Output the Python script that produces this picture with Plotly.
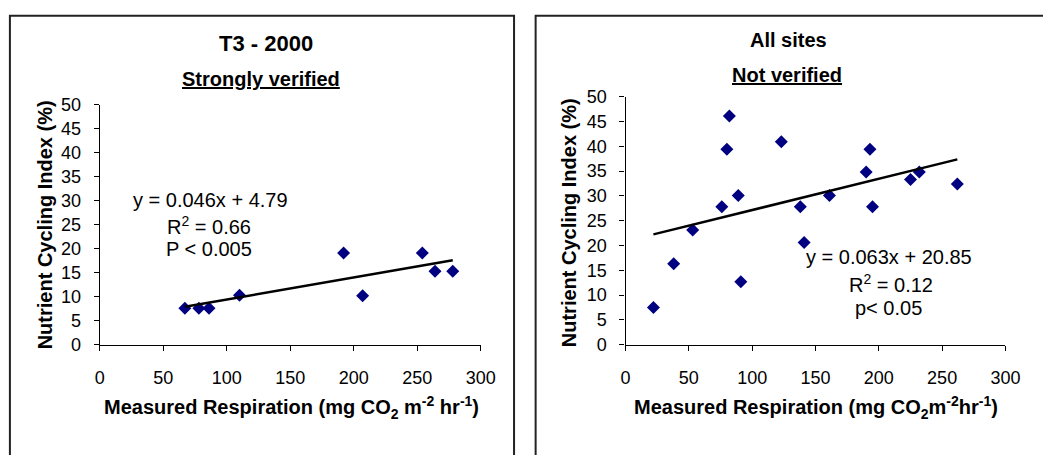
import plotly.graph_objects as go

W, H = 1043, 455

# --- T3 - 2000 panel ---
t3_resp = [67, 78, 86, 110, 192, 207, 254, 264, 278]
t3_nci = [7.6, 7.6, 7.6, 10.3, 19.1, 10.2, 19.1, 15.3, 15.3]
t3_slope, t3_intercept = 0.046, 4.79

# --- All sites panel ---
all_resp = [22, 38, 53, 76, 80, 82, 89, 91, 123, 138, 141, 161,
            190, 193, 195, 225, 232, 262]
all_nci = [7.5, 16.3, 23.1, 27.8, 39.4, 46.1, 30.1, 12.7, 40.9, 27.8, 20.6, 30.1,
           34.8, 39.4, 27.8, 33.3, 34.8, 32.4]
all_slope, all_intercept = 0.063, 20.85

x_ticks = [0, 50, 100, 150, 200, 250, 300]
y_ticks = [0, 5, 10, 15, 20, 25, 30, 35, 40, 45, 50]

FONT = "Liberation Sans, Arial, sans-serif"
NAVY = "#000080"


def px(x):
    return x / W


def py(y):
    return 1 - y / H


def fit_line(xs, slope, intercept):
    x0, x1 = min(xs), max(xs)
    return [x0, x1], [slope * x0 + intercept, slope * x1 + intercept]


fig = go.Figure()

# scatter points and fitted lines
for xs, ys, slope, icpt, xa, ya in [
    (t3_resp, t3_nci, t3_slope, t3_intercept, "x", "y"),
    (all_resp, all_nci, all_slope, all_intercept, "x2", "y2"),
]:
    fig.add_trace(go.Scatter(
        x=xs, y=ys, mode="markers", xaxis=xa, yaxis=ya,
        marker=dict(symbol="diamond", size=10, color=NAVY, line=dict(width=0)),
        showlegend=False, cliponaxis=False,
    ))
    lx, ly = fit_line(xs, slope, icpt)
    fig.add_trace(go.Scatter(
        x=lx, y=ly, mode="lines", xaxis=xa, yaxis=ya,
        line=dict(color="black", width=2.5), showlegend=False,
    ))

axis_common = dict(
    showgrid=False, zeroline=False, showline=True, linecolor="black", linewidth=1.3,
    ticks="outside", ticklen=5, tickwidth=1, tickcolor="black",
    tickfont=dict(family=FONT, size=18, color="black"),
)

fig.update_layout(
    width=W, height=H,
    margin=dict(l=0, r=0, t=0, b=0),
    paper_bgcolor="white", plot_bgcolor="white",
    font=dict(family=FONT, color="black"),
    xaxis=dict(domain=[px(96.7), px(485)], range=[0, 300], tickvals=x_ticks,
               anchor="y", ticklabelstandoff=12, **axis_common),
    yaxis=dict(domain=[py(350), py(99)], range=[0, 50], tickvals=y_ticks,
               anchor="x", ticklabelstandoff=9, **axis_common),
    xaxis2=dict(domain=[px(632.7), px(1020)], range=[0, 300], tickvals=x_ticks,
                anchor="y2", ticklabelstandoff=12, **axis_common),
    yaxis2=dict(domain=[py(350), py(90.7)], range=[0, 50], tickvals=y_ticks,
                anchor="x2", ticklabelstandoff=9, **axis_common),
)

# panel frames
fig.add_shape(type="rect", xref="paper", yref="paper",
              x0=px(5), x1=px(519), y0=-0.05, y1=py(6),
              line=dict(color="#222222", width=2), layer="below")
fig.add_shape(type="rect", xref="paper", yref="paper",
              x0=px(541), x1=1.05, y0=-0.05, y1=py(6),
              line=dict(color="#222222", width=2), layer="below")


def label(text, x, y, size=20, bold=False, angle=0):
    fig.add_annotation(
        text=f"<b>{text}</b>" if bold else text,
        x=px(x), y=py(y), xref="paper", yref="paper",
        xanchor="center", yanchor="middle", showarrow=False,
        textangle=angle, font=dict(family=FONT, size=size, color="black"),
    )


# titles
label("T3 - 2000", 266, 35, size=22, bold=True)
label("<u>Strongly verified</u>", 261, 72, bold=True)
label("All sites", 799, 31, bold=True)
label("<u>Not verified</u>", 797, 68, bold=True)

# axis titles
label("Nutrient Cycling Index (%)", 41, 225, bold=True, angle=-90)
label("Nutrient Cycling Index (%)", 575, 222, bold=True, angle=-90)
label("Measured Respiration (mg CO<sub>2</sub> m<sup>-2</sup> hr<sup>-1</sup>)",
      292, 416, bold=True)
label("Measured Respiration (mg CO<sub>2</sub>m<sup>-2</sup>hr<sup>-1</sup>)",
      827, 416, bold=True)

# regression statistics
label(f"y = {t3_slope}x + {t3_intercept}", 210, 199)
label("R<sup>2</sup> = 0.66", 208, 225)
label("P < 0.005", 208, 250)
label(f"y = {all_slope}x + {all_intercept}", 901, 258)
label("R<sup>2</sup> = 0.12", 903, 286)
label("p< 0.05", 901, 312)

fig.write_html("out.html")
